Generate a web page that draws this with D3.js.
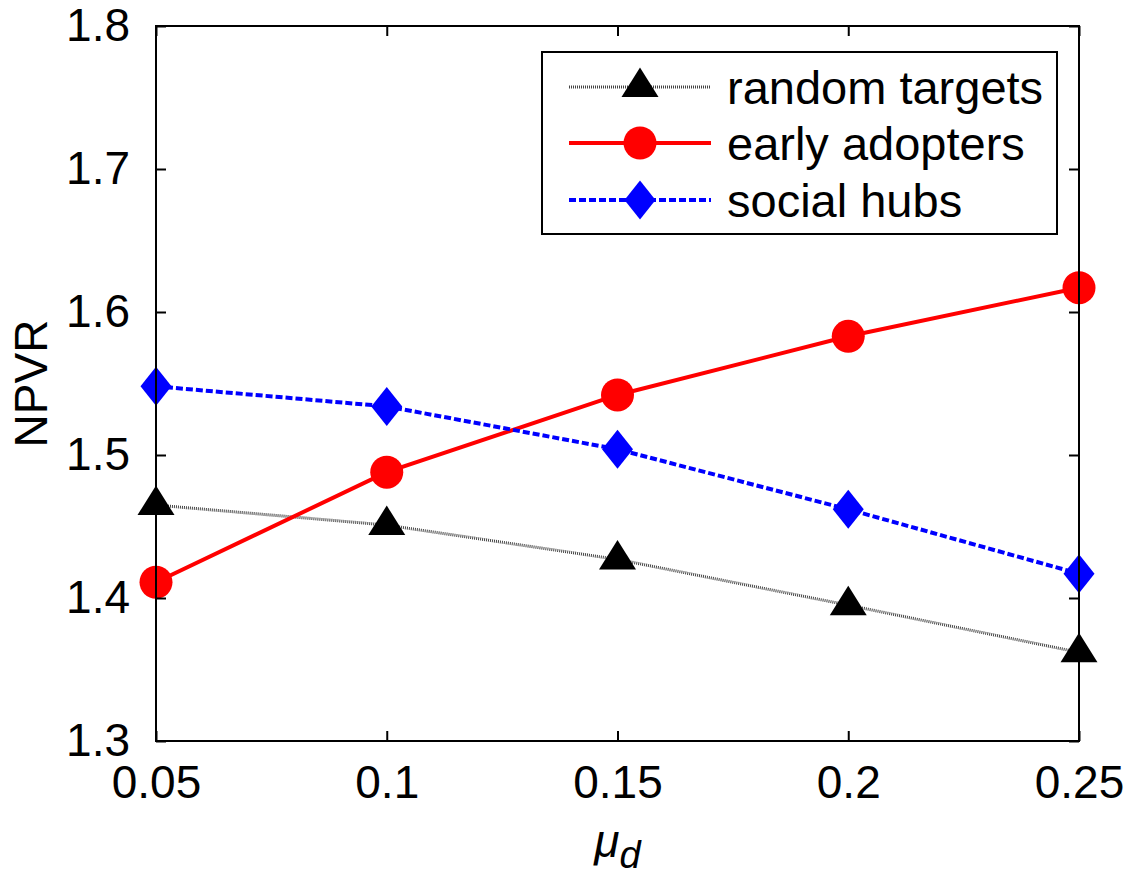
<!DOCTYPE html>
<html>
<head>
<meta charset="utf-8">
<script src="https://cdn.jsdelivr.net/npm/d3@7"></script>
<style>
  html, body { margin: 0; padding: 0; background: #fff; }
  svg { display: block; font-family: Arial, "Liberation Sans", sans-serif; }
</style>
</head>
<body>
<svg id="chart" width="1141" height="878"></svg>
<script>
// x values (mu_d) and NPVR for each targeting strategy
const muD = [0.05, 0.1, 0.15, 0.2, 0.25];
const randomTargets = [1.465, 1.451, 1.427, 1.395, 1.362];
const earlyAdopters = [1.411, 1.488, 1.542, 1.583, 1.617];
const socialHubs = [1.548, 1.534, 1.504, 1.462, 1.417];
const xTicks = [0.05, 0.1, 0.15, 0.2, 0.25];
const xTickLabels = ["0.05", "0.1", "0.15", "0.2", "0.25"];
const yTicks = [1.3, 1.4, 1.5, 1.6, 1.7, 1.8];
const yTickLabels = ["1.3", "1.4", "1.5", "1.6", "1.7", "1.8"];
const seriesNames = ["random targets", "early adopters", "social hubs"];

const svg = d3.select("#chart");
const plotL = 156, plotR = 1079, plotT = 26, plotB = 741;
const x = d3.scaleLinear().domain([0.05, 0.25]).range([plotL, plotR]);
const y = d3.scaleLinear().domain([1.3, 1.8]).range([plotB, plotT]);

// marker shapes
const tri = "M0,-19.5 L18.5,10 L-18.5,10 Z";
const dia = "M0,-19.5 L15.5,0 L0,19.5 L-15.5,0 Z";
function markerPath(kind) {
  if (kind === "tri") return tri;
  if (kind === "dia") return dia;
  return d3.symbol().type(d3.symbolCircle).size(Math.PI * 16.5 * 16.5)();
}

const series = [
  { name: seriesNames[0], values: randomTargets, stroke: "#444", width: 3, dash: "1,1", marker: "tri", fill: "#000" },
  { name: seriesNames[1], values: earlyAdopters, stroke: "#ff0000", width: 4, dash: null, marker: "circ", fill: "#ff0000" },
  { name: seriesNames[2], values: socialHubs, stroke: "#0000ff", width: 4, dash: "7,3", marker: "dia", fill: "#0000ff" }
];

const line = d3.line().x((d, i) => x(muD[i])).y(d => y(d));

const plot = svg.append("g");
series.forEach(s => {
  plot.append("path")
    .datum(s.values)
    .attr("d", line)
    .attr("fill", "none")
    .attr("stroke", s.stroke)
    .attr("stroke-width", s.width)
    .attr("stroke-dasharray", s.dash);
  plot.selectAll(null)
    .data(s.values)
    .enter().append("path")
    .attr("d", markerPath(s.marker))
    .attr("transform", (d, i) => `translate(${x(muD[i])},${y(d)})`)
    .attr("fill", s.fill);
});

// axes box with inward ticks on all four sides
const axisStyle = g => {
  g.select(".domain").remove();
  g.selectAll("line").attr("stroke", "#000").attr("stroke-width", 2);
  g.selectAll("text").attr("font-size", 46).attr("fill", "#000");
};

svg.append("g")
  .attr("transform", `translate(0,${plotB})`)
  .call(d3.axisBottom(x).tickValues(xTicks).tickFormat((d, i) => xTickLabels[i]).tickSizeInner(-10).tickPadding(24))
  .call(axisStyle);
svg.append("g")
  .attr("transform", `translate(0,${plotT})`)
  .call(d3.axisTop(x).tickValues(xTicks).tickFormat("").tickSizeInner(-10))
  .call(axisStyle);
svg.append("g")
  .attr("transform", `translate(${plotL},0)`)
  .call(d3.axisLeft(y).tickValues(yTicks).tickFormat((d, i) => yTickLabels[i]).tickSizeInner(-10).tickPadding(26))
  .call(axisStyle);
svg.append("g")
  .attr("transform", `translate(${plotR},0)`)
  .call(d3.axisRight(y).tickValues(yTicks).tickFormat("").tickSizeInner(-10))
  .call(axisStyle);

svg.append("rect")
  .attr("x", plotL).attr("y", plotT)
  .attr("width", plotR - plotL).attr("height", plotB - plotT)
  .attr("fill", "none").attr("stroke", "#000").attr("stroke-width", 2);

// axis labels
svg.append("text")
  .attr("transform", `translate(47,${(plotT + plotB) / 2}) rotate(-90)`)
  .attr("text-anchor", "middle")
  .attr("font-size", 46)
  .text("NPVR");

const xl = svg.append("text")
  .attr("x", (plotL + plotR) / 2)
  .attr("y", 857)
  .attr("text-anchor", "middle")
  .attr("font-size", 46)
  .attr("font-style", "italic");
xl.append("tspan").text("μ");
xl.append("tspan").attr("font-size", 38).attr("dy", 11).text("d");

// legend
const lg = svg.append("g");
lg.append("rect")
  .attr("x", 542).attr("y", 52)
  .attr("width", 515).attr("height", 182)
  .attr("fill", "#fff").attr("stroke", "#000").attr("stroke-width", 2);
const rowY = [87, 143, 200];
series.forEach((s, i) => {
  lg.append("line")
    .attr("x1", 569).attr("x2", 711)
    .attr("y1", rowY[i]).attr("y2", rowY[i])
    .attr("stroke", s.stroke)
    .attr("stroke-width", s.width)
    .attr("stroke-dasharray", s.dash);
  lg.append("path")
    .attr("d", markerPath(s.marker))
    .attr("transform", `translate(640,${rowY[i]})`)
    .attr("fill", s.fill);
  lg.append("text")
    .attr("x", 727).attr("y", rowY[i])
    .attr("dy", "0.36em")
    .attr("font-size", 47)
    .text(s.name);
});
</script>
</body>
</html>
